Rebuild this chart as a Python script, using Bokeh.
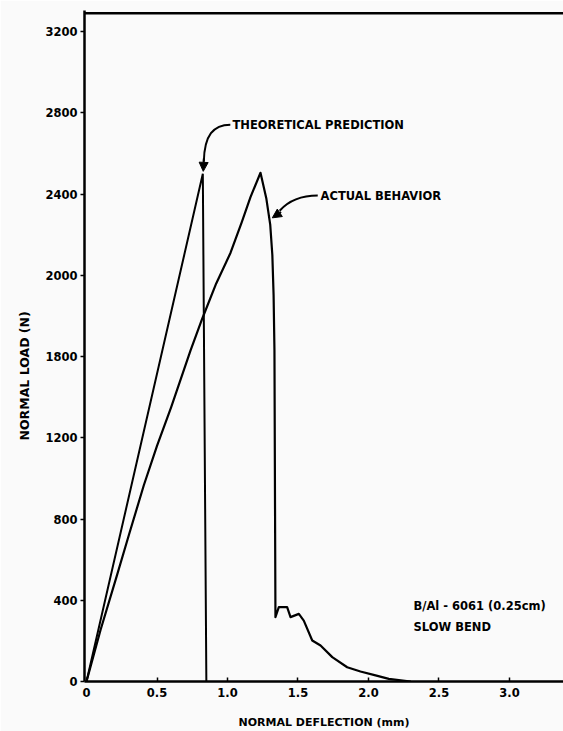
from bokeh.plotting import figure
from bokeh.models import Range1d, FixedTicker, Arrow, NormalHead, Span, Title
from bokeh.core.properties import value
from bokeh.embed import file_html
from bokeh.resources import INLINE

# Load-deflection data, B/Al-6061 slow bend test
theory_defl = [0.0, 0.825, 0.85]
theory_load = [0, 2500, 0]

actual_defl = [0.0, 0.1, 0.217, 0.3, 0.406, 0.5, 0.6, 0.738, 0.82, 0.92, 1.021,
               1.1, 1.163, 1.234, 1.275, 1.303, 1.318, 1.327, 1.333, 1.34,
               1.364, 1.423, 1.447, 1.506, 1.541, 1.601, 1.66, 1.743, 1.849,
               1.943, 2.05, 2.144, 2.3]
actual_load = [0, 255, 525, 720, 965, 1160, 1350, 1630, 1785, 1960, 2110,
               2260, 2385, 2505, 2380, 2250, 2100, 1900, 1630, 317,
               366, 366, 317, 333, 300, 202, 177, 120, 70,
               49, 30, 13, 0]

x_ticks = [0, 0.5, 1, 1.5, 2, 2.5, 3]
x_tick_labels = ["0", "0.5", "1.0", "1.5", "2.0", "2.5", "3.0"]
y_ticks = [0, 400, 800, 1200, 1600, 2000, 2400, 2800, 3200]
y_tick_labels = ["0", "400", "800", "1200", "1800", "2000", "2400", "2800", "3200"]

FONT = "DejaVu Sans"
BG = "#fafafa"

p = figure(width=563, height=731, output_backend="svg", toolbar_location=None,
           x_range=Range1d(-0.0142, 3.383), y_range=Range1d(0, 3304),
           min_border_left=84, min_border_right=0, min_border_top=10,
           min_border_bottom=50)
p.background_fill_color = BG
p.border_fill_color = BG
p.outline_line_color = None
p.grid.visible = False

# axes
for ax in (p.xaxis[0], p.yaxis[0]):
    ax.axis_line_width = 2.5
    ax.axis_line_color = "black"
    ax.major_tick_line_width = 1.5
    ax.minor_tick_line_color = None
    ax.major_label_text_font = FONT
    ax.major_label_text_font_style = "bold"
    ax.major_label_text_font_size = "11.5px"
    ax.major_label_text_color = "black"

p.xaxis.ticker = FixedTicker(ticks=x_ticks)
p.xaxis.major_label_overrides = dict(zip(x_ticks, x_tick_labels))
p.xaxis.major_tick_in = 4
p.xaxis.major_tick_out = 0
p.xaxis.major_label_standoff = 6
p.xaxis.axis_label = "NORMAL DEFLECTION (mm)"
p.xaxis.axis_label_text_font = FONT
p.xaxis.axis_label_text_font_style = "bold"
p.xaxis.axis_label_text_font_size = "11px"
p.xaxis.axis_label_text_color = "black"
p.xaxis.axis_label_standoff = 16

p.yaxis.ticker = FixedTicker(ticks=y_ticks)
p.yaxis.major_label_overrides = dict(zip(y_ticks, y_tick_labels))
p.yaxis.major_tick_in = 0
p.yaxis.major_tick_out = 4
p.yaxis.major_label_standoff = 3

# vertical axis title, placed a little below the frame centre
p.add_layout(Title(text="NORMAL LOAD (N)", align="left", offset=241, standoff=22,
                   vertical_align="bottom", text_font=FONT, text_font_style="bold",
                   text_font_size="12.5px", text_color="black"), "left")

# top border of the frame
p.add_layout(Span(location=3290, dimension="width", line_color="black", line_width=2.5))

# curves
p.line(theory_defl, theory_load, line_color="black", line_width=2)
p.line(actual_defl, actual_load, line_color="black", line_width=2.2, line_join="round")

# callout arrows
p.bezier(x0=[1.02], y0=[2742], x1=[0.832], y1=[2560], cx0=[0.90], cy0=[2742],
         cx1=[0.836], cy1=[2690], line_color="black", line_width=2)
p.add_layout(Arrow(end=NormalHead(size=9, fill_color="black", line_color="black"),
                   x_start=0.832, y_start=2575, x_end=0.828, y_end=2512,
                   line_color="black", line_width=2))
p.bezier(x0=[1.64], y0=[2393], x1=[1.37], y1=[2318], cx0=[1.52], cy0=[2393],
         cx1=[1.43], cy1=[2365], line_color="black", line_width=2)
p.add_layout(Arrow(end=NormalHead(size=9, fill_color="black", line_color="black"),
                   x_start=1.38, y_start=2312, x_end=1.318, y_end=2283,
                   line_color="black", line_width=2))

# annotation texts
p.text(x=[1.035, 1.66], y=[2742, 2393],
       text=["THEORETICAL PREDICTION", "ACTUAL BEHAVIOR"],
       text_font=value(FONT), text_font_style="bold", text_font_size="11.5px",
       text_baseline="middle", text_align="left", text_color="black")
p.text(x=[2.319, 2.319], y=[374, 266],
       text=["B/Al - 6061 (0.25cm)", "SLOW BEND"],
       text_font=value(FONT), text_font_style="bold", text_font_size="11.5px",
       text_baseline="middle", text_align="left", text_color="black")

open("out.html", "w").write(file_html(p, INLINE))
